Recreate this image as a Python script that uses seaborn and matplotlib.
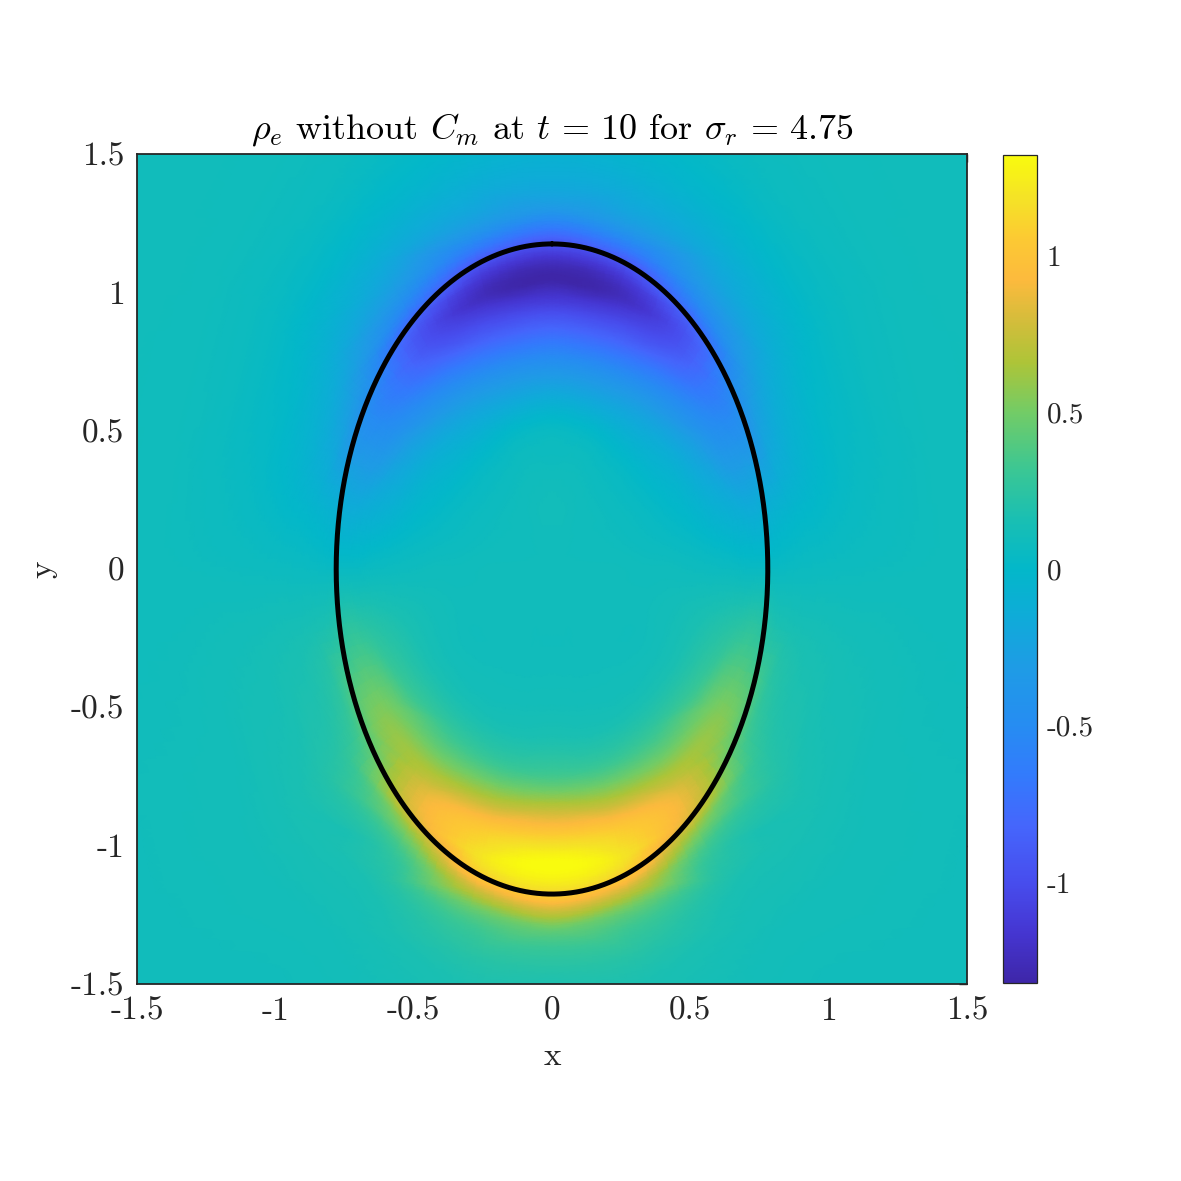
import numpy as np
import matplotlib
matplotlib.use("Agg")
import matplotlib.pyplot as plt
import matplotlib.tri as mtri
from matplotlib.colors import LinearSegmentedColormap
import seaborn as sns
import pandas as pd

# ---------------- data ----------------
ellipse_a = 0.78      # semi-axis along x
ellipse_b = 1.175     # semi-axis along y

# normalised elliptical radius of the sample rings
radial_levels = [0.0, 0.3, 0.45, 0.55, 0.65, 0.75, 0.85, 0.9, 0.95, 1.0,
                 1.05, 1.12, 1.25, 1.45, 1.8, 2.6]
# elliptical angle measured from the top (0) to the bottom (180), x >= 0 side
angle_levels_deg = [0, 20, 40, 60, 80, 90, 100, 120, 140, 160, 180]

rho_a000 = [0.10, 0.09, 0.02, -0.20, -0.50, -0.85, -1.20, -1.32, -1.20, -0.95, -0.65, -0.30, -0.10, 0.01, 0.07, 0.10]
rho_a020 = [0.10, 0.09, 0.02, -0.18, -0.45, -0.80, -1.12, -1.25, -1.15, -0.92, -0.62, -0.30, -0.10, 0.02, 0.08, 0.10]
rho_a040 = [0.10, 0.08, 0.02, -0.10, -0.28, -0.55, -0.85, -0.95, -0.95, -0.80, -0.55, -0.32, -0.12, 0.03, 0.09, 0.10]
rho_a060 = [0.10, 0.08, 0.04, -0.02, -0.10, -0.25, -0.45, -0.50, -0.52, -0.45, -0.32, -0.20, -0.07, 0.03, 0.09, 0.10]
rho_a080 = [0.10, 0.09, 0.07, 0.05, 0.02, -0.03, -0.08, -0.10, -0.12, -0.10, -0.07, -0.04, 0.00, 0.05, 0.09, 0.10]
rho_a090 = [0.10, 0.10, 0.09, 0.09, 0.08, 0.07, 0.06, 0.05, 0.05, 0.05, 0.05, 0.06, 0.07, 0.08, 0.09, 0.10]
rho_a100 = [0.10, 0.10, 0.10, 0.11, 0.13, 0.16, 0.20, 0.22, 0.24, 0.22, 0.18, 0.16, 0.14, 0.12, 0.10, 0.10]
rho_a120 = [0.10, 0.10, 0.10, 0.12, 0.18, 0.30, 0.50, 0.55, 0.52, 0.42, 0.32, 0.25, 0.19, 0.14, 0.11, 0.10]
rho_a140 = [0.10, 0.10, 0.11, 0.14, 0.25, 0.45, 0.72, 0.85, 0.88, 0.80, 0.55, 0.32, 0.19, 0.13, 0.10, 0.10]
rho_a160 = [0.10, 0.10, 0.12, 0.17, 0.32, 0.65, 1.05, 1.15, 1.20, 1.05, 0.75, 0.42, 0.22, 0.14, 0.11, 0.10]
rho_a180 = [0.10, 0.10, 0.13, 0.20, 0.38, 0.78, 1.18, 1.32, 1.28, 1.10, 0.78, 0.42, 0.20, 0.13, 0.11, 0.10]

color_limits = [-1.32, 1.32]
axis_ticks = [-1.5, -1, -0.5, 0, 0.5, 1, 1.5]
axis_ticklabels = ["-1.5", "-1", "-0.5", "0", "0.5", "1", "1.5"]
cbar_ticks = [-1, -0.5, 0, 0.5, 1]
cbar_ticklabels = ["-1", "-0.5", "0", "0.5", "1"]

# parula-like colormap anchors
parula_anchors = [
    (0.00, (0.2422, 0.1504, 0.6603)),
    (0.06, (0.2700, 0.2100, 0.8200)),
    (0.12, (0.2800, 0.3000, 0.9300)),
    (0.19, (0.2700, 0.4000, 0.9900)),
    (0.25, (0.2000, 0.4800, 0.9900)),
    (0.31, (0.1500, 0.5500, 0.9500)),
    (0.38, (0.1200, 0.6100, 0.9000)),
    (0.44, (0.0600, 0.6700, 0.8500)),
    (0.50, (0.0100, 0.7200, 0.7900)),
    (0.56, (0.1000, 0.7500, 0.7000)),
    (0.62, (0.2300, 0.7800, 0.5800)),
    (0.69, (0.4500, 0.8000, 0.4000)),
    (0.75, (0.6800, 0.7700, 0.2200)),
    (0.80, (0.8300, 0.7400, 0.2300)),
    (0.85, (0.9900, 0.7300, 0.2400)),
    (0.90, (0.9900, 0.7900, 0.2000)),
    (0.95, (0.9600, 0.8900, 0.1500)),
    (1.00, (0.9763, 0.9831, 0.0538)),
]
parula = LinearSegmentedColormap.from_list("parula_like", parula_anchors, N=512)

# ---------------- build sample table ----------------
rows = [rho_a000, rho_a020, rho_a040, rho_a060, rho_a080, rho_a090,
        rho_a100, rho_a120, rho_a140, rho_a160, rho_a180]
records = []
records.append({"x": 0.0, "y": 0.0, "rho": float(np.mean([r[0] for r in rows]))})
for j, s in enumerate(radial_levels):
    if j == 0:
        continue
    for ang, row in zip(angle_levels_deg, rows):
        t = np.deg2rad(ang)
        xx = s * ellipse_a * np.sin(t)
        yy = s * ellipse_b * np.cos(t)
        records.append({"x": xx, "y": yy, "rho": row[j]})
        if 0 < ang < 180:
            records.append({"x": -xx, "y": yy, "rho": row[j]})
df = pd.DataFrame(records)

# ---------------- style ----------------
sns.set_theme(style="white")
plt.rcParams["font.family"] = ["cmr10", "DejaVu Serif"]
plt.rcParams["mathtext.fontset"] = "cm"
plt.rcParams["axes.unicode_minus"] = False
plt.rcParams["axes.formatter.use_mathtext"] = True

fig = plt.figure(figsize=(11.81, 11.81), dpi=100)
fig.patch.set_facecolor("white")
ax = fig.add_axes([137 / 1181, 1 - 984 / 1181, 830 / 1181, 830 / 1181])

tri = mtri.Triangulation(df["x"].values, df["y"].values)
interp = mtri.CubicTriInterpolator(tri, df["rho"].values, kind="geom")
refiner = mtri.UniformTriRefiner(tri)
tri_r, rho_r = refiner.refine_field(df["rho"].values, triinterpolator=interp, subdiv=4)
mesh = ax.tripcolor(tri_r, rho_r, shading="gouraud", cmap=parula,
                    vmin=color_limits[0], vmax=color_limits[1], rasterized=True)

# ellipse outline
tt = np.linspace(0, 2 * np.pi, 721)
ell = pd.DataFrame({"x": ellipse_a * np.sin(tt), "y": ellipse_b * np.cos(tt)})
sns.lineplot(data=ell, x="x", y="y", sort=False, color="black", linewidth=3.6,
             ax=ax, estimator=None, legend=False)

ax.set_xlim(-1.5, 1.5)
ax.set_ylim(-1.5, 1.5)
ax.set_aspect("auto")
ax.set_xticks(axis_ticks)
ax.set_xticklabels(axis_ticklabels)
ax.set_yticks(axis_ticks)
ax.set_yticklabels(axis_ticklabels)
ax.tick_params(direction="in", length=6, width=1.0, color="#262626",
               top=True, right=True, labelsize=24, pad=9, labelcolor="#262626")
for sp in ax.spines.values():
    sp.set_visible(True)
    sp.set_color("#262626")
    sp.set_linewidth(1.3)
ax.set_xlabel("x", fontsize=24, color="#262626", labelpad=12)
ax.set_ylabel("y", fontsize=24, color="#262626", labelpad=10)
ax.set_title(r"$\rho_e$ without $C_m$ at $t\,=\,10$ for $\sigma_r\,=\,4.75$",
             fontsize=26, color="black", pad=11)

cax = fig.add_axes([1003 / 1181, 1 - 983 / 1181, 34 / 1181, 828 / 1181])
cb = fig.colorbar(mesh, cax=cax)
cb.set_ticks(cbar_ticks)
cb.set_ticklabels(cbar_ticklabels)
cb.ax.tick_params(direction="in", length=7, width=0.8, color="#262626",
                  labelsize=21, pad=7, labelcolor="#262626")
cb.outline.set_edgecolor("#262626")
cb.outline.set_linewidth(0.9)

fig.savefig("out.png", dpi=100, facecolor="white")
